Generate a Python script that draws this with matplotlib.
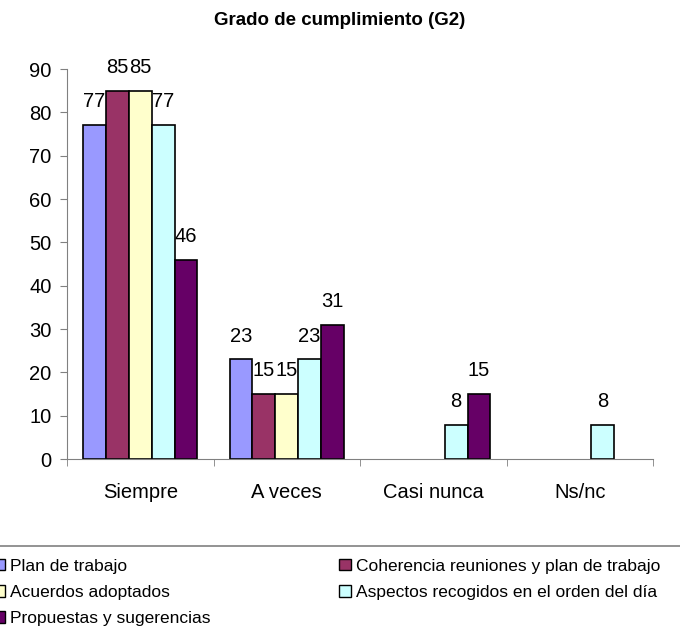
import numpy as np
import matplotlib.pyplot as plt
from matplotlib.patches import Patch
from matplotlib.lines import Line2D

plt.rcParams['font.family'] = ['Liberation Sans', 'DejaVu Sans']

# datos
categorias = ['Siempre', 'A veces', 'Casi nunca', 'Ns/nc']
series = ['Plan de trabajo', 'Coherencia reuniones y plan de trabajo',
          'Acuerdos adoptados', 'Aspectos recogidos en el orden del día',
          'Propuestas y sugerencias']
plan = [77, 23, 0, 0]
coherencia = [85, 15, 0, 0]
acuerdos = [85, 15, 0, 0]
aspectos = [77, 23, 8, 8]
propuestas = [46, 31, 15, 0]
colores = ['#9999FF', '#993366', '#FFFFCC', '#CCFFFF', '#660066']

valores = [plan, coherencia, acuerdos, aspectos, propuestas]

fig = plt.figure(figsize=(6.8, 6.36), dpi=100)
ax = fig.add_axes([0.0985, 0.278, 0.862, 0.6135])

x = np.arange(len(categorias))
w = 0.156
handles = []
for i, (vals, col, nombre) in enumerate(zip(valores, colores, series)):
    pos = x + (i - 2) * w
    # las barras con valor 0 no se dibujan
    lw = [1.2 if v > 0 else 0 for v in vals]
    bars = ax.bar(pos, vals, w, color=col, edgecolor='black', linewidth=lw)
    for b, v in zip(bars, vals):
        if v > 0:
            ax.text(b.get_x() + b.get_width() / 2, v + 3.2, str(v),
                    ha='center', va='bottom', fontsize=14.5)
    handles.append(Patch(facecolor=col, edgecolor='black', label=nombre))

ax.set_xlim(-0.5, 3.5)
ax.set_ylim(0, 90)
ax.set_yticks(range(0, 91, 10))
ax.set_xticks(x)
ax.set_xticklabels(categorias, fontsize=14.5)
ax.set_xticks(np.arange(-0.5, 4, 1), minor=True)
ax.tick_params(axis='x', which='major', length=0, pad=17)
ax.tick_params(axis='x', which='minor', length=5, color='#808080')
ax.tick_params(axis='y', labelsize=14.5, length=5, color='#808080', pad=6)
for s in ['top', 'right']:
    ax.spines[s].set_visible(False)
ax.spines['left'].set_color('#808080')
ax.spines['bottom'].set_color('#808080')

fig.text(0.5, 0.968, 'Grado de cumplimiento (G2)', ha='center', va='center',
         fontsize=13.5, fontweight='bold')

# leyenda en orden por filas
orden = [0, 2, 4, 1, 3]
fig.legend([handles[i] for i in orden], [series[i] for i in orden],
           loc='upper left', bbox_to_anchor=(-0.032, 0.146), ncol=2,
           frameon=False, fontsize=12.5, handlelength=0.65, handleheight=0.65,
           handletextpad=0.3, columnspacing=7.4, labelspacing=0.65)
fig.add_artist(Line2D([0, 1], [1 - 546 / 636, 1 - 546 / 636],
                      color='#808080', linewidth=1.2, transform=fig.transFigure))

fig.savefig('out.png')
